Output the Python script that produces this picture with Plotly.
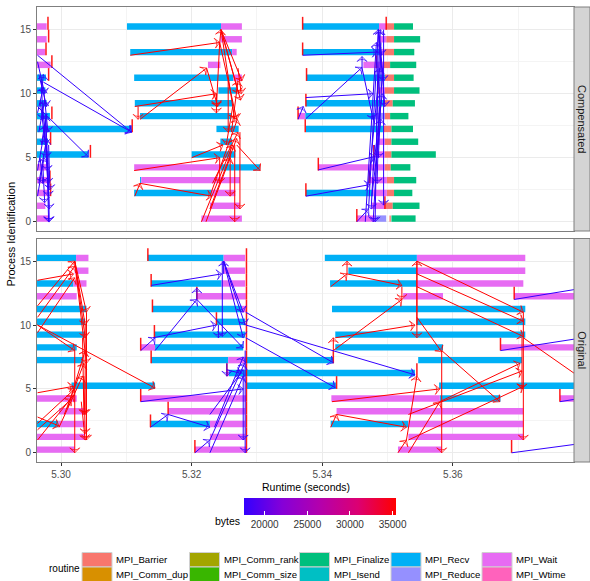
import plotly.graph_objects as go
from plotly.subplots import make_subplots
from plotly.colors import sample_colorscale

# ------------------------------------------------------------------ data
# legend layout: 5 columns x 2 rows, filled column by column
routine_names = ["MPI_Barrier", "MPI_Comm_dup", "MPI_Comm_rank", "MPI_Comm_size",
                 "MPI_Finalize", "MPI_Isend", "MPI_Recv", "MPI_Reduce",
                 "MPI_Wait", "MPI_Wtime"]
routine_colors = ["#F8766D", "#D89000", "#A3A500", "#39B600", "#00BF7D",
                  "#00BFC4", "#00B0F6", "#9590FF", "#E76BF3", "#FF62BC"]

x_ticks = [5.30, 5.32, 5.34, 5.36]
y_ticks = [0, 5, 10, 15]
bytes_ticks = [20000, 25000, 30000, 35000]
bytes_low = 17576
bytes_high = 35400

# bars: (rank, routine, start, end)  -- panel "Compensated"
comp_left_bars = [
    (15, "MPI_Wait", 5.2955, 5.2978), (14, "MPI_Wait", 5.2955, 5.2978),
    (13, "MPI_Wait", 5.2955, 5.2976), (12, "MPI_Wait", 5.2955, 5.2984),
    (11, "MPI_Recv", 5.2955, 5.2977), (10, "MPI_Recv", 5.2955, 5.2976),
    (9, "MPI_Recv", 5.2955, 5.2978), (8, "MPI_Recv", 5.2955, 5.2983),
    (7, "MPI_Recv", 5.2955, 5.3108), (6, "MPI_Recv", 5.2955, 5.2980),
    (5, "MPI_Recv", 5.2955, 5.3042), (4, "MPI_Wait", 5.2955, 5.2978),
    (3, "MPI_Wait", 5.2955, 5.2979), (2, "MPI_Wait", 5.2955, 5.2980),
    (1, "MPI_Wait", 5.2955, 5.2976), (0, "MPI_Wait", 5.2955, 5.2981),
]
comp_mid_bars = [
    (15, "MPI_Recv", 5.3101, 5.3245), (15, "MPI_Wait", 5.3245, 5.3277),
    (14, "MPI_Wait", 5.3244, 5.3277),
    (13, "MPI_Recv", 5.3106, 5.3262), (13, "MPI_Wait", 5.3262, 5.3269),
    (12, "MPI_Wait", 5.3225, 5.3244),
    (11, "MPI_Recv", 5.3112, 5.3264), (11, "MPI_Wait", 5.3264, 5.3277),
    (10, "MPI_Recv", 5.3241, 5.3270),
    (9, "MPI_Recv", 5.3113, 5.3263),
    (8, "MPI_Recv", 5.3121, 5.3261),
    (7, "MPI_Recv", 5.3238, 5.3272),
    (6, "MPI_Recv", 5.3244, 5.3262),
    (5, "MPI_Recv", 5.3200, 5.3267),
    (4, "MPI_Wait", 5.3112, 5.3244), (4, "MPI_Recv", 5.3244, 5.3305),
    (3, "MPI_Recv", 5.3121, 5.3123), (3, "MPI_Wait", 5.3123, 5.3274),
    (2, "MPI_Recv", 5.3112, 5.3231), (2, "MPI_Wait", 5.3231, 5.3267),
    (1, "MPI_Wait", 5.3228, 5.3274),
    (0, "MPI_Wait", 5.3215, 5.3277),
]
comp_right_bars = [
    (15, "MPI_Recv", 5.3370, 5.3487), (15, "MPI_Wait", 5.3487, 5.3498),
    (15, "MPI_Barrier", 5.3498, 5.3510), (15, "MPI_Finalize", 5.3510, 5.3539),
    (14, "MPI_Wait", 5.3486, 5.3498), (14, "MPI_Barrier", 5.3498, 5.3510),
    (14, "MPI_Finalize", 5.3510, 5.3550),
    (13, "MPI_Recv", 5.3370, 5.3491), (13, "MPI_Wait", 5.3491, 5.3495),
    (13, "MPI_Barrier", 5.3495, 5.3510), (13, "MPI_Finalize", 5.3510, 5.3541),
    (12, "MPI_Wait", 5.3463, 5.3494), (12, "MPI_Barrier", 5.3494, 5.3504),
    (12, "MPI_Finalize", 5.3504, 5.3544),
    (11, "MPI_Recv", 5.3376, 5.3496), (11, "MPI_Barrier", 5.3496, 5.3510),
    (11, "MPI_Finalize", 5.3510, 5.3540),
    (10, "MPI_Wait", 5.3486, 5.3496), (10, "MPI_Barrier", 5.3496, 5.3510),
    (10, "MPI_Finalize", 5.3510, 5.3549),
    (9, "MPI_Recv", 5.3375, 5.3496), (9, "MPI_Barrier", 5.3496, 5.3508),
    (9, "MPI_Finalize", 5.3508, 5.3542),
    (8, "MPI_Wait", 5.3363, 5.3374), (8, "MPI_Recv", 5.3374, 5.3481),
    (8, "MPI_Reduce", 5.3481, 5.3496), (8, "MPI_Barrier", 5.3496, 5.3504),
    (8, "MPI_Finalize", 5.3504, 5.3532),
    (7, "MPI_Recv", 5.3375, 5.3493), (7, "MPI_Barrier", 5.3493, 5.3506),
    (7, "MPI_Finalize", 5.3506, 5.3539),
    (6, "MPI_Wait", 5.3484, 5.3496), (6, "MPI_Barrier", 5.3496, 5.3506),
    (6, "MPI_Finalize", 5.3506, 5.3547),
    (5, "MPI_Wait", 5.3481, 5.3496), (5, "MPI_Barrier", 5.3496, 5.3506),
    (5, "MPI_Finalize", 5.3506, 5.3574),
    (4, "MPI_Wait", 5.3394, 5.3496), (4, "MPI_Barrier", 5.3496, 5.3505),
    (4, "MPI_Finalize", 5.3505, 5.3535),
    (3, "MPI_Wait", 5.3473, 5.3499), (3, "MPI_Barrier", 5.3499, 5.3510),
    (3, "MPI_Finalize", 5.3510, 5.3544),
    (2, "MPI_Recv", 5.3375, 5.3478), (2, "MPI_Wait", 5.3478, 5.3499),
    (2, "MPI_Barrier", 5.3499, 5.3510), (2, "MPI_Finalize", 5.3510, 5.3538),
    (1, "MPI_Wait", 5.3476, 5.3496), (1, "MPI_Barrier", 5.3496, 5.3508),
    (1, "MPI_Finalize", 5.3508, 5.3549),
    (0, "MPI_Wait", 5.3453, 5.3481), (0, "MPI_Reduce", 5.3481, 5.3498),
    (0, "MPI_Barrier", 5.3503, 5.3505), (0, "MPI_Finalize", 5.3506, 5.3543),
]

# bars -- panel "Original"
orig_left_bars = [
    (15, "MPI_Recv", 5.2955, 5.3023), (15, "MPI_Wait", 5.3023, 5.3042),
    (14, "MPI_Wait", 5.3021, 5.3042),
    (13, "MPI_Recv", 5.2955, 5.3019), (13, "MPI_Wait", 5.3019, 5.3039),
    (12, "MPI_Wait", 5.2955, 5.3024),
    (11, "MPI_Recv", 5.2955, 5.3039),
    (10, "MPI_Recv", 5.2955, 5.3037),
    (9, "MPI_Recv", 5.2955, 5.3037),
    (8, "MPI_Recv", 5.2955, 5.3024),
    (7, "MPI_Recv", 5.2955, 5.3034),
    (5, "MPI_Recv", 5.3016, 5.3144),
    (4, "MPI_Wait", 5.2955, 5.3024),
    (3, "MPI_Wait", 5.2997, 5.3037),
    (2, "MPI_Recv", 5.2955, 5.2996), (2, "MPI_Wait", 5.2996, 5.3037),
    (1, "MPI_Wait", 5.2955, 5.3037),
    (0, "MPI_Wait", 5.2955, 5.3021),
]
orig_mid_bars = [
    (15, "MPI_Recv", 5.3133, 5.3249), (15, "MPI_Wait", 5.3249, 5.3282),
    (14, "MPI_Wait", 5.3249, 5.3282),
    (13, "MPI_Recv", 5.3138, 5.3246), (13, "MPI_Wait", 5.3246, 5.3282),
    (12, "MPI_Wait", 5.3208, 5.3283),
    (11, "MPI_Recv", 5.3140, 5.3277), (11, "MPI_Wait", 5.3277, 5.3283),
    (10, "MPI_Recv", 5.3238, 5.3282),
    (9, "MPI_Recv", 5.3143, 5.3282),
    (8, "MPI_Wait", 5.3122, 5.3144), (8, "MPI_Recv", 5.3144, 5.3279),
    (7, "MPI_Recv", 5.3138, 5.3256), (7, "MPI_Wait", 5.3256, 5.3282),
    (7, "MPI_Recv", 5.3282, 5.3417),
    (6, "MPI_Wait", 5.3254, 5.3257), (6, "MPI_Recv", 5.3257, 5.3542),
    (5, "MPI_Recv", 5.3284, 5.3421),
    (4, "MPI_Wait", 5.3122, 5.3284),
    (3, "MPI_Wait", 5.3164, 5.3282),
    (2, "MPI_Recv", 5.3137, 5.3228), (2, "MPI_Wait", 5.3228, 5.3282),
    (1, "MPI_Wait", 5.3228, 5.3282),
    (0, "MPI_Wait", 5.3205, 5.3284),
]
orig_right_bars = [
    (15, "MPI_Recv", 5.3404, 5.3545), (15, "MPI_Wait", 5.3545, 5.3711),
    (14, "MPI_Recv", 5.3440, 5.3545), (14, "MPI_Wait", 5.3545, 5.3711),
    (13, "MPI_Recv", 5.3412, 5.3545), (13, "MPI_Wait", 5.3545, 5.3708),
    (12, "MPI_Wait", 5.3524, 5.3585), (12, "MPI_Wait", 5.3694, 5.3850),
    (11, "MPI_Recv", 5.3415, 5.3711),
    (10, "MPI_Recv", 5.3545, 5.3711),
    (9, "MPI_Recv", 5.3420, 5.3711),
    (8, "MPI_Recv", 5.3420, 5.3585), (8, "MPI_Wait", 5.3673, 5.3850),
    (7, "MPI_Recv", 5.3547, 5.3706),
    (5, "MPI_Recv", 5.3579, 5.3850),
    (4, "MPI_Wait", 5.3414, 5.3580), (4, "MPI_Recv", 5.3580, 5.3673),
    (4, "MPI_Wait", 5.3764, 5.3850),
    (3, "MPI_Wait", 5.3422, 5.3708),
    (2, "MPI_Recv", 5.3413, 5.3532), (2, "MPI_Wait", 5.3532, 5.3708),
    (1, "MPI_Wait", 5.3532, 5.3708),
    (0, "MPI_Wait", 5.3516, 5.3583),
]

# event ticks: (time, rank)
comp_ticks = [
    (5.2980, 15), (5.2981, 14), (5.2977, 13), (5.2986, 12), (5.2981, 11),
    (5.2986, 8), (5.2984, 6), (5.3109, 7), (5.3045, 5), (5.2983, 3), (5.2984, 2),
    (5.3370, 15), (5.3498, 15), (5.3370, 13), (5.3376, 11), (5.3375, 9),
    (5.3363, 8), (5.3374, 7), (5.3394, 4), (5.3375, 2), (5.3453, 0),
    (5.3483, 12), (5.3485, 10), (5.3496, 1), (5.3479, 5), (5.3472, 3),
]
orig_ticks = [
    (5.3133, 15), (5.3138, 13), (5.3140, 11), (5.3143, 9), (5.3122, 8),
    (5.3138, 7), (5.3122, 4), (5.3164, 3), (5.3137, 2), (5.3205, 0),
    (5.3238, 10), (5.3208, 12), (5.3254, 6),
    (5.3284, 15), (5.3284, 14), (5.3284, 13), (5.3284, 12), (5.3284, 11),
    (5.3284, 10), (5.3284, 9), (5.3284, 8), (5.3284, 7), (5.3284, 6),
    (5.3284, 5), (5.3284, 4), (5.3284, 3), (5.3284, 2), (5.3284, 1), (5.3284, 0),
    (5.3417, 7), (5.3422, 5), (5.3545, 6),
    (5.3694, 12), (5.3673, 8), (5.3764, 4), (5.3690, 0),
]

# messages: (send time, send rank, receive time, receive rank)
comp_blue_msgs = [
    (5.2964, 13.0, 5.3108, 7.0), (5.2973, 10.9, 5.3108, 7.0), (5.2964, 9.0, 5.3042, 5.07),
    (5.2964, 12.5, 5.2975, 10), (5.2966, 11.5, 5.2978, 9), (5.2970, 11, 5.2972, 8),
    (5.2974, 10, 5.2980, 7), (5.2968, 9.5, 5.2976, 6), (5.2972, 9, 5.2978, 5),
    (5.2976, 8, 5.2979, 4), (5.2964, 8.5, 5.2973, 10.5), (5.2966, 7, 5.2975, 9.5),
    (5.2970, 6, 5.2977, 8.3), (5.2964, 4, 5.2976, 7.5), (5.2966, 3, 5.2978, 6.5),
    (5.2964, 2, 5.2974, 5), (5.2968, 5, 5.2972, 3), (5.2975, 7, 5.2981, 2),
    (5.2978, 6, 5.2982, 1), (5.2980, 5, 5.2982, 0), (5.2979, 4, 5.2981, 0),
    (5.2977, 8, 5.2980, 3), (5.2970, 10, 5.2973, 11.5), (5.2972, 4.5, 5.2975, 1.5),
    (5.2981, 6, 5.2983, 2.5),
    (5.3370, 13, 5.3484, 13.25), (5.3375, 9.7, 5.3478, 10.0), (5.3375, 8.05, 5.3461, 12.05),
    (5.3363, 8, 5.3371, 9), (5.3461, 12, 5.3461, 12.9), (5.3461, 12, 5.3478, 8),
    (5.3394, 4.05, 5.3481, 5.1), (5.3375, 2, 5.3473, 2.9), (5.3453, 0, 5.3471, 1),
    (5.3486, 15, 5.3494, 11), (5.3486, 15, 5.3491, 13), (5.3486, 15, 5.3496, 9),
    (5.3486, 15, 5.3481, 0), (5.3494, 15, 5.3494, 1.3), (5.3471, 1, 5.3486, 15),
    (5.3466, 0, 5.3483, 14), (5.3471, 3, 5.3488, 12), (5.3476, 2, 5.3490, 8),
    (5.3478, 4, 5.3492, 10), (5.3490, 14, 5.3484, 3), (5.3492, 12, 5.3486, 5),
    (5.3488, 9, 5.3478, 0), (5.3483, 7, 5.3489, 15), (5.3480, 6, 5.3475, 1),
]
comp_red_msgs = [
    (5.3106, 13, 5.3243, 14), (5.3243, 14, 5.3245, 15), (5.3245, 15, 5.3277, 11),
    (5.3245, 15, 5.3272, 10), (5.3245, 15, 5.3266, 8), (5.3245, 15, 5.3275, 9.5),
    (5.3113, 9, 5.3238, 10), (5.3121, 8, 5.3223, 12), (5.3118, 9, 5.3118, 8),
    (5.3223, 12, 5.3240, 9), (5.3243, 14, 5.3238, 9), (5.3243, 14, 5.3269, 8),
    (5.3200, 5, 5.3248, 6), (5.3112, 4, 5.3243, 5), (5.3121, 3, 5.3231, 2),
    (5.3113, 2, 5.3121, 3), (5.3215, 0, 5.3263, 6), (5.3228, 1, 5.3269, 6.5),
    (5.3222, 0, 5.3259, 5), (5.3232, 3, 5.3271, 7), (5.3269, 6, 5.3305, 4),
    (5.3266, 6, 5.3266, 0), (5.3274, 7, 5.3274, 1), (5.3259, 6, 5.3259, 2),
    (5.3238, 10, 5.3238, 8.5), (5.3243, 5, 5.3243, 3), (5.3256, 11, 5.3256, 7),
    (5.3263, 9, 5.3253, 6), (5.3271, 12, 5.3276, 10), (5.3228, 2, 5.3270, 8),
    (5.3261, 7, 5.3271, 11),
]
orig_red_msgs = [
    (5.2964, 13.5, 5.3019, 14), (5.2964, 11.5, 5.3021, 15), (5.2964, 10.6, 5.3021, 14.6),
    (5.2964, 9.4, 5.3021, 13.7), (5.2964, 10, 5.3144, 5.06), (5.2964, 10, 5.3021, 8),
    (5.3021, 15, 5.3039, 11), (5.3021, 15, 5.3037, 10), (5.3021, 15, 5.3037, 9),
    (5.3023, 14, 5.3039, 7), (5.3039, 11, 5.3039, 1), (5.3037, 10, 5.3037, 3),
    (5.3021, 8, 5.3021, 0), (5.2964, 4.7, 5.3019, 5.2), (5.2964, 2.3, 5.3021, 5),
    (5.2964, 1.8, 5.3016, 4.2), (5.2964, 2.8, 5.2997, 2.1), (5.2964, 1, 5.3019, 4.5),
    (5.2997, 2, 5.3033, 6), (5.3005, 3, 5.3035, 7), (5.3010, 3.5, 5.3037, 8),
    (5.3031, 4, 5.3037, 1), (5.3035, 6, 5.3037, 1.5), (5.3033, 9, 5.3035, 3),
    (5.3413, 13, 5.3438, 14), (5.3438, 14, 5.3438, 15), (5.3438, 14, 5.3522, 13.1),
    (5.3522, 13, 5.3522, 12), (5.3417, 8, 5.3522, 12), (5.3420, 9, 5.3542, 10),
    (5.3417, 8, 5.3417, 9), (5.3545, 10, 5.3545, 15), (5.3545, 15, 5.3545, 9),
    (5.3545, 15, 5.3708, 11), (5.3545, 14, 5.3708, 10.3), (5.3545, 13, 5.3708, 9.1),
    (5.3545, 10.6, 5.3583, 7.9), (5.3583, 8, 5.3583, 0), (5.3583, 8, 5.3672, 4),
    (5.3415, 4, 5.3580, 5), (5.3422, 3, 5.3529, 2), (5.3413, 2, 5.3422, 3),
    (5.3516, 0, 5.3529, 1), (5.3532, 0, 5.3580, 4), (5.3532, 3, 5.3706, 6.4),
    (5.3532, 1, 5.3708, 5.2), (5.3580, 4, 5.3703, 7), (5.3708, 11, 5.3708, 1),
    (5.3708, 9, 5.3837, 4.4), (5.3706, 9, 5.3706, 5), (5.3529, 1, 5.3545, 6),
]
orig_blue_msgs = [
    (5.3138, 13.1, 5.3246, 14), (5.3249, 14, 5.3249, 15), (5.3208, 12, 5.3208, 12.9),
    (5.3141, 9, 5.3238, 10), (5.3122, 8, 5.3144, 9), (5.3144, 8, 5.3208, 12),
    (5.3208, 12, 5.3279, 8.2), (5.3249, 15, 5.3279, 11), (5.3249, 15, 5.3282, 10),
    (5.3249, 15, 5.3279, 9), (5.3241, 10, 5.3241, 9), (5.3122, 4, 5.3279, 5),
    (5.3164, 3, 5.3228, 2), (5.3137, 2, 5.3164, 3), (5.3205, 0, 5.3228, 1),
    (5.3228, 0, 5.3279, 6), (5.3228, 3, 5.3279, 6.5), (5.3282, 8, 5.3282, 0),
    (5.3279, 6, 5.3279, 1), (5.3254, 7, 5.3254, 6), (5.3254, 6.5, 5.3276, 6.2),
    (5.3247, 15, 5.3247, 9.1), (5.3283, 11, 5.3417, 7.05), (5.3283, 10, 5.3542, 6.1),
    (5.3283, 9, 5.3420, 5.1), (5.3228, 1, 5.3281, 7), (5.3235, 2, 5.3279, 7.5),
    (5.3694, 12, 5.3837, 13.2), (5.3673, 8, 5.3837, 9.3),
    (5.3764, 4, 5.3837, 4.6), (5.3690, 0, 5.3837, 1.0),
]

# ------------------------------------------------------------------ styling
FONT = "Liberation Sans, Arial, sans-serif"
BYTES_SCALE = [[0.0, "#3300FF"], [0.25, "#8500D8"], [0.5, "#B400AC"],
               [0.75, "#DC0072"], [1.0, "#FF0000"]]
X_RANGE = [5.29632, 5.37856]
Y_RANGE = [-0.72, 16.77]
ML, MR, MT, MB = 37, 16, 7, 119
W, H = 590, 581
PLOT_W = W - ML - MR
PLOT_H = H - MT - MB
TOP_DOM = [(H - MB - 231) / PLOT_H, 1.0]
BOT_DOM = [0.0, (H - MB - 238.5) / PLOT_H]


def px_x(px):
    return (px - ML) / PLOT_W


def px_y(py):
    return (H - MB - py) / PLOT_H


color_of = dict(zip(routine_names, routine_colors))

fig = make_subplots(rows=2, cols=1, shared_xaxes=True, vertical_spacing=0.02)


def add_bars(bar_lists, row):
    bars = [b for lst in bar_lists for b in lst]
    for name in routine_names:
        sel = [b for b in bars if b[1] == name]
        if not sel:
            continue
        fig.add_trace(go.Bar(orientation="h",
                             y=[b[0] + 0.25 for b in sel],
                             x=[b[3] - b[2] for b in sel],
                             base=[b[2] for b in sel], width=0.5,
                             name=name, showlegend=False,
                             marker=dict(color=color_of[name], line=dict(width=0)),
                             hoverinfo="skip"), row=row, col=1)


def add_ticks(ticks, row):
    xs, ys = [], []
    for t, r in ticks:
        xs += [t, t, None]
        ys += [r, r + 1, None]
    fig.add_trace(go.Scatter(x=xs, y=ys, mode="lines",
                             line=dict(color="rgba(255,0,0,0.9)", width=1.5),
                             showlegend=False, hoverinfo="skip"), row=row, col=1)


def add_msgs(msgs, nbytes, row, showscale=False):
    xs, ys, sizes = [], [], []
    for t0, r0, t1, r1 in msgs:
        xs += [t0, t1, None]
        ys += [r0, r1, None]
        sizes += [0, 7, 0]
    frac = (nbytes - bytes_low) / (bytes_high - bytes_low)
    col = sample_colorscale(BYTES_SCALE, [frac])[0]
    marker = dict(symbol="arrow-wide-open", size=sizes, angleref="previous",
                  color=[nbytes] * len(xs), colorscale=BYTES_SCALE,
                  cmin=bytes_low, cmax=bytes_high, showscale=showscale,
                  line=dict(width=1, color=col))
    if showscale:
        marker["colorbar"] = dict(
            orientation="h", x=px_x(320), xanchor="center",
            y=px_y(515.5), yanchor="middle",
            len=152, lenmode="pixels", thickness=17, thicknessmode="pixels",
            tickvals=bytes_ticks, ticktext=[str(v) for v in bytes_ticks],
            ticks="inside", tickcolor="white", ticklen=4,
            tickfont=dict(size=10, color="#333333", family=FONT),
            outlinewidth=0, xpad=0, ypad=0)
    fig.add_trace(go.Scatter(x=xs, y=ys, mode="lines+markers",
                             line=dict(color=col, width=1, backoff=0),
                             marker=marker, showlegend=False, hoverinfo="skip"),
                  row=row, col=1)


add_bars([comp_left_bars, comp_mid_bars, comp_right_bars], 1)
add_bars([orig_left_bars, orig_mid_bars, orig_right_bars], 2)
add_ticks(comp_ticks, 1)
add_ticks(orig_ticks, 2)
add_msgs(comp_blue_msgs, bytes_low, 1, showscale=True)
add_msgs(comp_red_msgs, bytes_high, 1)
add_msgs(orig_red_msgs, bytes_high, 2)
add_msgs(orig_blue_msgs, bytes_low, 2)

axis_common = dict(showline=True, mirror=True, linecolor="#7F7F7F", linewidth=1,
                   showgrid=True, gridcolor="#EBEBEB", gridwidth=1, zeroline=False,
                   ticks="outside", ticklen=3, tickcolor="#333333", tickwidth=1,
                   tickfont=dict(size=10, color="#4D4D4D", family=FONT))

fig.update_xaxes(range=X_RANGE, tickvals=x_ticks, ticktext=[f"{v:.2f}" for v in x_ticks],
                 minor=dict(tickvals=[5.31, 5.33, 5.35, 5.37], showgrid=True,
                            gridcolor="#F4F4F4", gridwidth=1, ticks=""),
                 **axis_common)
fig.update_xaxes(showticklabels=False, ticks="", row=1, col=1)
fig.update_yaxes(range=Y_RANGE, tickvals=y_ticks,
                 minor=dict(tickvals=[2.5, 7.5, 12.5], showgrid=True,
                            gridcolor="#F4F4F4", gridwidth=1, ticks=""),
                 **axis_common)
fig.update_layout(yaxis=dict(domain=TOP_DOM), yaxis2=dict(domain=BOT_DOM))

shapes = []
annotations = []

# facet strips
strip_w = 16 / PLOT_W
for dom, label in [(TOP_DOM, "Compensated"), (BOT_DOM, "Original")]:
    shapes.append(dict(type="rect", xref="paper", yref="paper", x0=1.0, x1=1.0 + strip_w,
                       y0=dom[0], y1=dom[1], fillcolor="#D4D4D4",
                       line=dict(color="#7F7F7F", width=1), layer="above"))
    annotations.append(dict(xref="paper", yref="paper", x=1.0 + strip_w / 2,
                            y=(dom[0] + dom[1]) / 2, text=label, textangle=90,
                            showarrow=False, xanchor="center", yanchor="middle",
                            font=dict(size=11, color="#1A1A1A", family=FONT)))

# axis titles
annotations.append(dict(xref="paper", yref="paper", x=px_x(10), y=px_y(234.5),
                        text="Process Identification", textangle=-90, showarrow=False,
                        xanchor="center", yanchor="middle",
                        font=dict(size=11, color="#000000", family=FONT)))
annotations.append(dict(xref="paper", yref="paper", x=0.5, y=px_y(487),
                        text="Runtime (seconds)", showarrow=False,
                        xanchor="center", yanchor="middle",
                        font=dict(size=10.5, color="#000000", family=FONT)))
annotations.append(dict(xref="paper", yref="paper", x=px_x(227), y=px_y(521),
                        text="bytes", showarrow=False,
                        xanchor="center", yanchor="middle",
                        font=dict(size=10.5, color="#000000", family=FONT)))

# routine legend (keys + labels), 5 columns x 2 rows
col_left = [82, 189.5, 299.5, 391, 482]
row_top = [552.5, 567]
key_w, key_h = 30, 14.5
annotations.append(dict(xref="paper", yref="paper", x=px_x(47), y=px_y(568),
                        text="routine", showarrow=False, xanchor="left", yanchor="middle",
                        font=dict(size=10, color="#000000", family=FONT)))
for i, (name, colr) in enumerate(zip(routine_names, routine_colors)):
    c, r = divmod(i, 2)
    x0 = col_left[c]
    y0 = row_top[r]
    shapes.append(dict(type="rect", xref="paper", yref="paper",
                       x0=px_x(x0), x1=px_x(x0 + key_w),
                       y0=px_y(y0 + key_h), y1=px_y(y0),
                       fillcolor=colr, line=dict(color="#D0D0D0", width=1)))
    annotations.append(dict(xref="paper", yref="paper", x=px_x(x0 + key_w + 2),
                            y=px_y(y0 + key_h / 2), text=name, showarrow=False,
                            xanchor="left", yanchor="middle",
                            font=dict(size=9.6, color="#000000", family=FONT)))

fig.update_layout(
    width=W, height=H, autosize=False,
    margin=dict(l=ML, r=MR, t=MT, b=MB, autoexpand=False),
    plot_bgcolor="white", paper_bgcolor="white",
    barmode="overlay", showlegend=False, hovermode=False,
    font=dict(family=FONT, size=10.5, color="#000000"),
    shapes=shapes, annotations=annotations,
)

# the page's default body margin would shift the figure by 8px
fig.write_html("out.html", config={"displayModeBar": False, "staticPlot": True},
               post_script="document.body.style.margin='0px';document.body.style.overflow='hidden';")
